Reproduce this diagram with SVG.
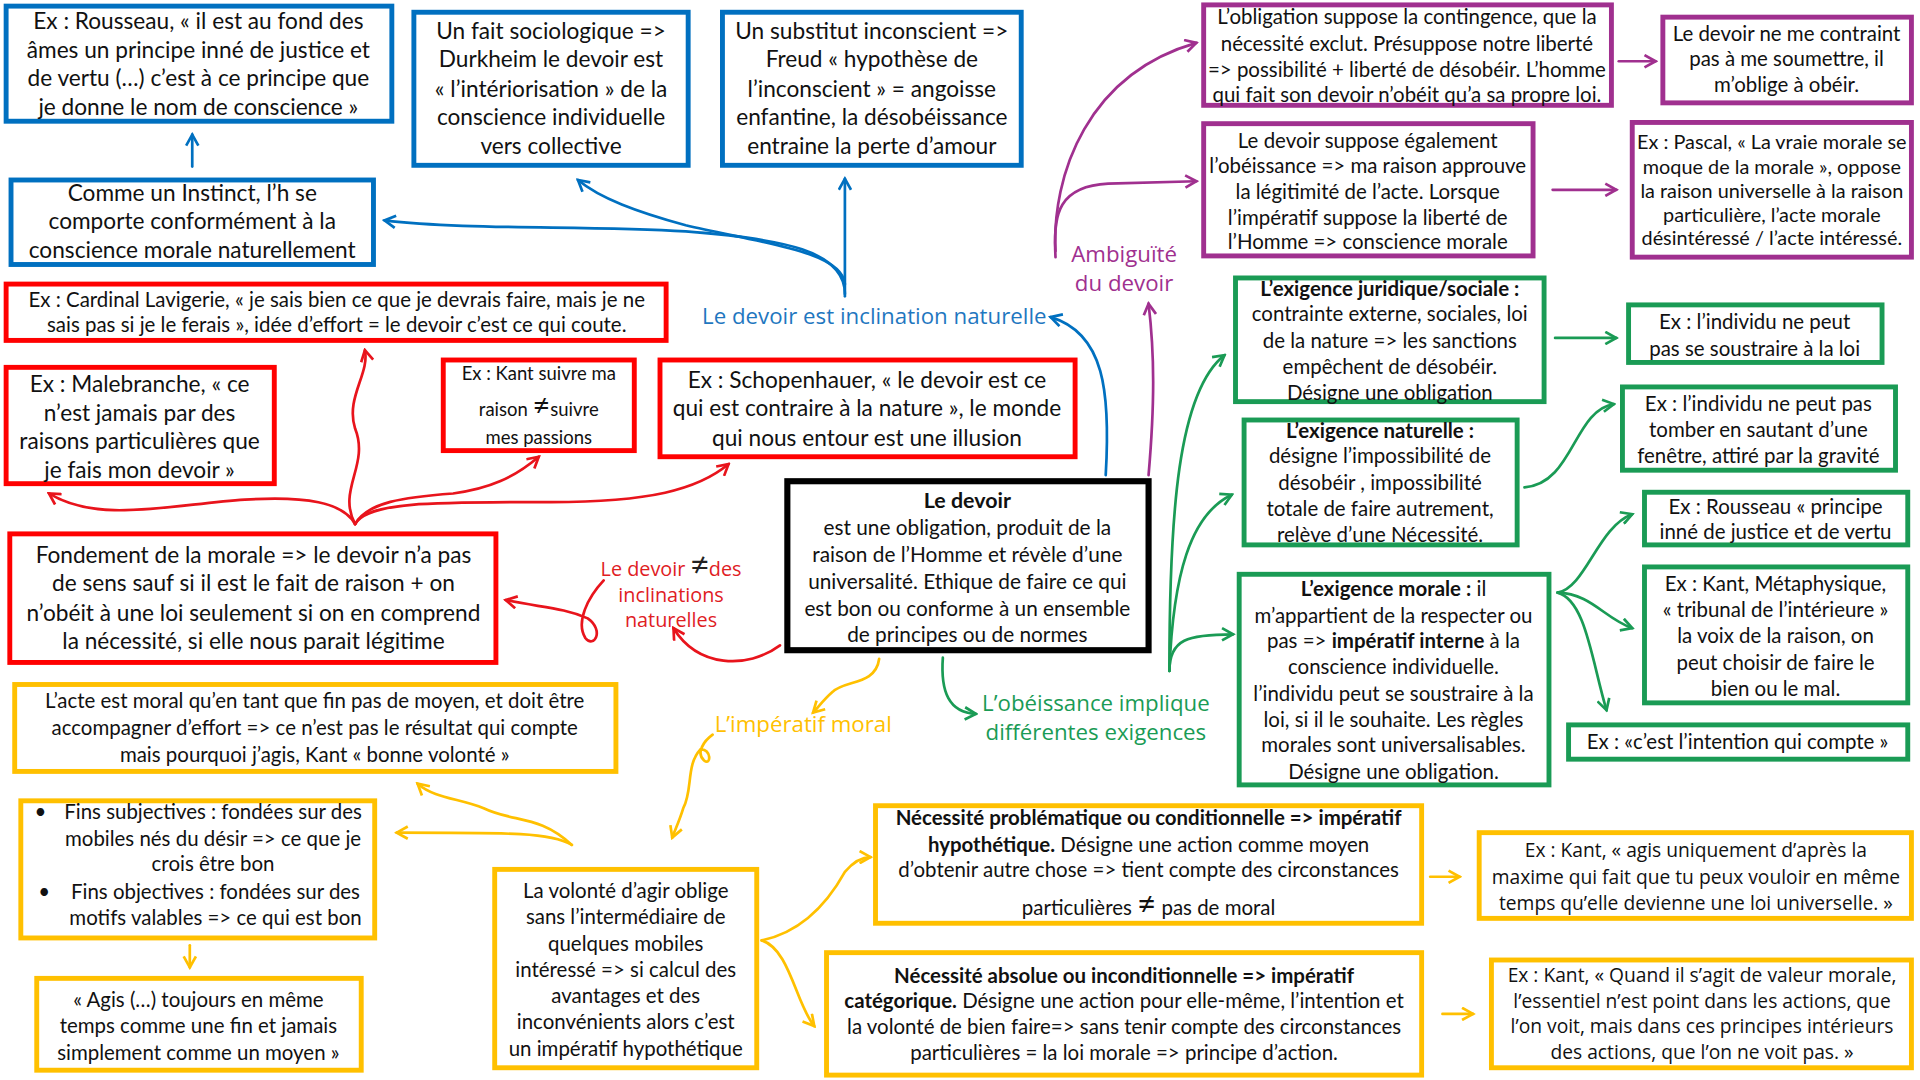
<svg xmlns="http://www.w3.org/2000/svg" width="1920" height="1080" viewBox="0 0 1920 1080">
<style>
text{font-family:Lato,"Liberation Sans",sans-serif;fill:#111;text-anchor:middle}
.f18{font-size:18.5px}
.f16{font-size:16.7px}
.f15{font-size:16.2px}
.f14{font-size:15.1px}
.fo{font-family:"Open Sans","Liberation Sans",sans-serif;font-size:15.7px}
.os{font-family:"Open Sans","Liberation Sans",sans-serif}
.b{font-weight:bold}
.bx{fill:#fff;stroke-width:4}
.blue{stroke:#0070c0}
.red{stroke:#ff0000}
.pur{stroke:#a0308f}
.grn{stroke:#1a9b55}
.yel{stroke:#ffc000}
.blk{stroke:#000;stroke-width:5}
.cn path{fill:none;stroke-width:2.2;stroke-linecap:round}
.lb{font-family:"Open Sans","Liberation Sans",sans-serif;font-size:18.2px}
</style>
<defs>
<marker id="mB" viewBox="0 0 12 12" refX="10" refY="6" markerWidth="12" markerHeight="12" markerUnits="userSpaceOnUse" orient="auto"><path d="M1,1 L10,6 L1,11" fill="none" stroke="#0070c0" stroke-width="2.2"/></marker>
<marker id="mR" viewBox="0 0 12 12" refX="10" refY="6" markerWidth="12" markerHeight="12" markerUnits="userSpaceOnUse" orient="auto"><path d="M1,1 L10,6 L1,11" fill="none" stroke="#e8141c" stroke-width="2.2"/></marker>
<marker id="mP" viewBox="0 0 12 12" refX="10" refY="6" markerWidth="12" markerHeight="12" markerUnits="userSpaceOnUse" orient="auto"><path d="M1,1 L10,6 L1,11" fill="none" stroke="#a0308f" stroke-width="2.2"/></marker>
<marker id="mG" viewBox="0 0 12 12" refX="10" refY="6" markerWidth="12" markerHeight="12" markerUnits="userSpaceOnUse" orient="auto"><path d="M1,1 L10,6 L1,11" fill="none" stroke="#1a9b55" stroke-width="2.2"/></marker>
<marker id="mY" viewBox="0 0 12 12" refX="10" refY="6" markerWidth="12" markerHeight="12" markerUnits="userSpaceOnUse" orient="auto"><path d="M1,1 L10,6 L1,11" fill="none" stroke="#ffc000" stroke-width="2.2"/></marker>
</defs>
<rect width="1920" height="1080" fill="#fff"/>
<g transform="scale(1.22449)">

<g id="connectors" class="cn">
<path d="M157,136 L157,110" stroke="#0070c0" marker-end="url(#mB)"/>
<path d="M690,242 L690,146" stroke="#0070c0" marker-end="url(#mB)"/>
<path d="M690,240 C690,205 640,195 560,189 C480,184 380,188 314,180" stroke="#0070c0" marker-end="url(#mB)"/>
<path d="M690,232 C688,205 620,198 560,184 C520,173 490,162 472,147" stroke="#0070c0" marker-end="url(#mB)"/>
<path d="M903,388 C907,320 902,272 858,259" stroke="#0070c0" marker-end="url(#mB)"/>

<path d="M862,210 C858,140 890,60 977,35" stroke="#a0308f" marker-end="url(#mP)"/>
<path d="M862,205 C860,175 865,152 905,150 L977,148" stroke="#a0308f" marker-end="url(#mP)"/>
<path d="M1322,50 L1352,50" stroke="#a0308f" marker-end="url(#mP)"/>
<path d="M1268,155 L1320,155" stroke="#a0308f" marker-end="url(#mP)"/>
<path d="M938,388 C943,330 943,290 938,248" stroke="#a0308f" marker-end="url(#mP)"/>

<path d="M770,537 C768,565 775,582 797,583" stroke="#1a9b55" marker-end="url(#mG)"/>
<path d="M955,548 C955,420 962,320 1000,290" stroke="#1a9b55" marker-end="url(#mG)"/>
<path d="M955,548 C958,470 972,420 1006,404" stroke="#1a9b55" marker-end="url(#mG)"/>
<path d="M955,548 C955,522 970,518 1007,518" stroke="#1a9b55" marker-end="url(#mG)"/>
<path d="M1270,276 L1320,276" stroke="#1a9b55" marker-end="url(#mG)"/>
<path d="M1245,398 C1285,395 1285,335 1318,330" stroke="#1a9b55" marker-end="url(#mG)"/>
<path d="M1272,484 C1295,480 1305,430 1333,420" stroke="#1a9b55" marker-end="url(#mG)"/>
<path d="M1272,484 C1300,485 1310,505 1333,513" stroke="#1a9b55" marker-end="url(#mG)"/>
<path d="M1272,484 C1295,490 1300,540 1312,580" stroke="#1a9b55" marker-end="url(#mG)"/>

<path d="M290,428 C275,400 302,380 290,350 C282,325 302,305 298,286" stroke="#e8141c" marker-end="url(#mR)"/>
<path d="M290,428 C280,410 250,405 200,408 C140,412 80,428 40,403" stroke="#e8141c" marker-end="url(#mR)"/>
<path d="M290,428 C300,410 330,406 370,403 C400,399 420,390 440,373" stroke="#e8141c" marker-end="url(#mR)"/>
<path d="M290,428 C300,410 350,410 450,410 C530,410 570,400 595,379" stroke="#e8141c" marker-end="url(#mR)"/>
<path d="M493,474 C480,488 470,508 478,521 C485,530 494,515 480,505 C460,496 440,496 413,490" stroke="#e8141c" marker-end="url(#mR)"/>
<path d="M637,527 C610,547 570,545 550,513" stroke="#e8141c" marker-end="url(#mR)"/>

<path d="M718,538 C715,560 690,555 680,565 C672,572 668,578 664,582" stroke="#ffc000" marker-end="url(#mY)"/>
<path d="M582,600 C575,605 568,615 575,621 C581,626 581,611 572,612 C560,625 566,645 558,660 C555,670 552,676 549,684" stroke="#ffc000" marker-end="url(#mY)"/>
<path d="M467,690 C440,665 420,672 395,660 C375,652 355,652 341,640" stroke="#ffc000" marker-end="url(#mY)"/>
<path d="M467,690 C450,680 420,680 324,680" stroke="#ffc000" marker-end="url(#mY)"/>
<path d="M155,772 L155,790" stroke="#ffc000" marker-end="url(#mY)"/>
<path d="M622,768 C660,760 680,730 690,712 C696,705 704,700 711,700" stroke="#ffc000" marker-end="url(#mY)"/>
<path d="M622,768 C645,775 650,820 665,838" stroke="#ffc000" marker-end="url(#mY)"/>
<path d="M1168,716 L1192,716" stroke="#ffc000" marker-end="url(#mY)"/>
<path d="M1178,828 L1203,828" stroke="#ffc000" marker-end="url(#mY)"/>
</g>

<g id="n-rousseau"><rect class="bx blue" x="5" y="5" width="315" height="94"/>
<text class="f18" x="162" y="24">Ex : Rousseau, « il est au fond des</text>
<text class="f18" x="162" y="47">âmes un principe inné de justice et</text>
<text class="f18" x="162" y="70">de vertu (…) c’est à ce principe que</text>
<text class="f18" x="162" y="94">je donne le nom de conscience »</text></g>

<g id="n-durkheim"><rect class="bx blue" x="338" y="10" width="224" height="125"/>
<text class="f18" x="450" y="32">Un fait sociologique =&gt;</text>
<text class="f18" x="450" y="55">Durkheim le devoir est</text>
<text class="f18" x="450" y="79">« l’intériorisation » de la</text>
<text class="f18" x="450" y="102">conscience individuelle</text>
<text class="f18" x="450" y="126">vers collective</text></g>

<g id="n-freud"><rect class="bx blue" x="590" y="10" width="244" height="125"/>
<text class="f18" x="712" y="32">Un substitut inconscient =&gt;</text>
<text class="f18" x="712" y="55">Freud « hypothèse de</text>
<text class="f18" x="712" y="79">l’inconscient  » = angoisse</text>
<text class="f18" x="712" y="102">enfantine, la désobéissance</text>
<text class="f18" x="712" y="126">entraine la perte d’amour</text></g>

<g id="n-instinct"><rect class="bx blue" x="9" y="147" width="296" height="69"/>
<text class="f18" x="157" y="164">Comme un Instinct, l’h se</text>
<text class="f18" x="157" y="187">comporte conformément à la</text>
<text class="f18" x="157" y="211">conscience morale naturellement</text></g>

<g id="n-label-inclination"><text class="lb" x="714" y="265" style="fill:#1f77c0">Le devoir est inclination naturelle</text></g>

<g id="n-cardinal"><rect class="bx red" x="5" y="232" width="539" height="46"/>
<text class="f16" x="275" y="250.5">Ex : Cardinal Lavigerie, « je sais bien ce que je devrais faire, mais je ne</text>
<text class="f16" x="275" y="271.5">sais pas si je le ferais », idée d’effort = le devoir c’est ce qui coute.</text></g>

<g id="n-malebranche"><rect class="bx red" x="5" y="300" width="219" height="95"/>
<text class="f18" x="114" y="320">Ex : Malebranche, « ce</text>
<text class="f18" x="114" y="344">n’est jamais par des</text>
<text class="f18" x="114" y="367">raisons particulières que</text>
<text class="f18" x="114" y="390">je fais  mon devoir »</text></g>

<g id="n-kant-passions"><rect class="bx red" x="362" y="294" width="156" height="74"/>
<text class="f14" x="440" y="310">Ex : Kant suivre ma</text>
<text class="f14" x="440" y="340">raison <tspan style="font-size:25px">≠</tspan>suivre</text>
<text class="f14" x="440" y="363">mes passions</text></g>

<g id="n-schopenhauer"><rect class="bx red" x="539" y="294" width="339" height="79"/>
<text class="f18" x="708" y="317">Ex : Schopenhauer, « le devoir est ce</text>
<text class="f18" x="708" y="340">qui est contraire à la nature », le monde</text>
<text class="f18" x="708" y="364">qui nous entour est une illusion</text></g>

<g id="n-fondement"><rect class="bx red" x="8" y="436" width="397" height="105"/>
<text class="f18" x="207" y="460">Fondement de la morale =&gt; le devoir n’a pas</text>
<text class="f18" x="207" y="483">de sens sauf si il est le fait de raison + on</text>
<text class="f18" x="207" y="507">n’obéit à une loi seulement si on en comprend</text>
<text class="f18" x="207" y="530">la nécessité, si elle nous parait légitime</text></g>

<g id="n-label-inclinations">
<text class="os" x="548" y="470" style="font-size:16.2px;fill:#e0201f">Le devoir <tspan style="font-size:26px;fill:#222">≠</tspan>des</text>
<text class="os" x="548" y="492" style="font-size:16.2px;fill:#e0201f">inclinations</text>
<text class="os" x="548" y="512" style="font-size:16.2px;fill:#e0201f">naturelles</text></g>

<g id="n-devoir"><rect class="bx blk" x="643" y="393" width="295" height="138"/>
<text x="790" y="415" class="b" style="font-size:17.5px">Le devoir</text>
<text x="790" y="437" style="font-size:17px">est une obligation, produit de la</text>
<text x="790" y="459" style="font-size:17px">raison de l’Homme et révèle d’une</text>
<text x="790" y="481" style="font-size:17px">universalité. Ethique de faire ce qui</text>
<text x="790" y="503" style="font-size:17px">est bon ou conforme à un ensemble</text>
<text x="790" y="524" style="font-size:17px">de principes ou de normes</text></g>

<g id="n-obligation"><rect class="bx pur" x="983" y="4" width="333" height="82"/>
<text class="f16" x="1149" y="20">L’obligation suppose la contingence, que la</text>
<text class="f16" x="1149" y="41.5">nécessité exclut. Présuppose  notre liberté</text>
<text class="f16" x="1149" y="62.5">=&gt; possibilité + liberté de désobéir. L’homme</text>
<text class="f16" x="1149" y="83">qui fait son devoir n’obéit qu’a sa propre loi.</text></g>

<g id="n-contraint"><rect class="bx pur" x="1358" y="14" width="203" height="70"/>
<text class="f16" x="1459" y="33.5">Le devoir ne me contraint</text>
<text class="f16" x="1459" y="53.5">pas à me soumettre, il</text>
<text class="f16" x="1459" y="75.5">m’oblige à obéir.</text></g>

<g id="n-obeissance"><rect class="bx pur" x="983" y="101" width="269" height="108"/>
<text class="f16" x="1117" y="120.5">Le devoir suppose également</text>
<text class="f16" x="1117" y="141.5">l’obéissance =&gt; ma raison approuve</text>
<text class="f16" x="1117" y="162.5">la légitimité de l’acte. Lorsque</text>
<text class="f16" x="1117" y="183.5">l’impératif suppose la liberté de</text>
<text class="f16" x="1117" y="203.5">l’Homme  =&gt; conscience morale</text></g>

<g id="n-pascal"><rect class="bx pur" x="1333" y="100" width="228" height="110"/>
<text class="f15" x="1447" y="122">Ex : Pascal, « La vraie morale se</text>
<text class="f15" x="1447" y="142">moque de la morale », oppose</text>
<text class="f15" x="1447" y="162">la raison universelle à la raison</text>
<text class="f15" x="1447" y="181">particulière, l’acte morale</text>
<text class="f15" x="1447" y="200">désintéressé / l’acte intéressé.</text></g>

<g id="n-label-ambiguite">
<text class="lb" x="918" y="214" style="fill:#a0308f">Ambiguïté</text>
<text class="lb" x="918" y="238" style="fill:#a0308f">du devoir</text></g>

<g id="n-juridique"><rect class="bx grn" x="1009" y="227" width="252" height="101"/>
<text class="f16 b" x="1135" y="241.5">L’exigence juridique/sociale :</text>
<text class="f16" x="1135" y="262.5">contrainte externe, sociales, loi</text>
<text class="f16" x="1135" y="284.5">de la nature =&gt; les sanctions</text>
<text class="f16" x="1135" y="305.5">empêchent de désobéir.</text>
<text class="f16" x="1135" y="326.5">Désigne une obligation</text></g>

<g id="n-naturelle"><rect class="bx grn" x="1016" y="343" width="223" height="102"/>
<text class="f16 b" x="1127" y="357.5">L’exigence naturelle :</text>
<text class="f16" x="1127" y="378.5">désigne l’impossibilité de</text>
<text class="f16" x="1127" y="400.5">désobéir , impossibilité</text>
<text class="f16" x="1127" y="421.5">totale de faire autrement,</text>
<text class="f16" x="1127" y="442.5">relève d’une Nécessité.</text></g>

<g id="n-morale"><rect class="bx grn" x="1012" y="469" width="253" height="172"/>
<text class="f16" x="1138" y="486.5"><tspan class="b">L’exigence morale :</tspan> il</text>
<text class="f16" x="1138" y="508.5">m’appartient de la respecter ou</text>
<text class="f16" x="1138" y="529.5">pas =&gt; <tspan class="b">impératif interne</tspan> à la</text>
<text class="f16" x="1138" y="550.5">conscience individuelle.</text>
<text class="f16" x="1138" y="572.5">l’individu peut se soustraire à la</text>
<text class="f16" x="1138" y="593.5">loi, si il le souhaite. Les règles</text>
<text class="f16" x="1138" y="614.5">morales sont universalisables.</text>
<text class="f16" x="1138" y="636.5">Désigne une obligation.</text></g>

<g id="n-ex-loi"><rect class="bx grn" x="1330" y="249" width="207" height="47"/>
<text class="f16" x="1433" y="268.5">Ex : l’individu ne peut</text>
<text class="f16" x="1433" y="290.5">pas se soustraire à la loi</text></g>

<g id="n-ex-gravite"><rect class="bx grn" x="1325" y="316" width="223" height="68"/>
<text class="f16" x="1436" y="335.5">Ex : l’individu ne peut pas</text>
<text class="f16" x="1436" y="356.5">tomber en sautant d’une</text>
<text class="f16" x="1436" y="378.5">fenêtre, attiré par la gravité</text></g>

<g id="n-ex-rousseau"><rect class="bx grn" x="1343" y="402" width="215" height="43"/>
<text class="f16" x="1450" y="419.5">Ex : Rousseau « principe</text>
<text class="f16" x="1450" y="440.5">inné de justice et de vertu</text></g>

<g id="n-ex-kant-tribunal"><rect class="bx grn" x="1343" y="463" width="215" height="111"/>
<text class="f16" x="1450" y="482.5">Ex : Kant, Métaphysique,</text>
<text class="f16" x="1450" y="503.5">« tribunal de l’intérieure »</text>
<text class="f16" x="1450" y="525.5">la voix de la raison, on</text>
<text class="f16" x="1450" y="547.5">peut choisir de faire le</text>
<text class="f16" x="1450" y="568.5">bien ou le mal.</text></g>

<g id="n-ex-intention"><rect class="bx grn" x="1281" y="592" width="277" height="28"/>
<text class="f16" x="1419" y="611.5">Ex : «c’est l’intention qui compte »</text></g>

<g id="n-label-obeissance">
<text class="lb" x="895" y="581" style="fill:#1a9b55">L’obéissance implique</text>
<text class="lb" x="895" y="604" style="fill:#1a9b55">différentes exigences</text></g>

<g id="n-acte"><rect class="bx yel" x="12" y="559" width="491" height="71"/>
<text class="f16" x="257" y="578.5">L’acte est moral qu’en tant que fin pas de moyen, et doit être</text>
<text class="f16" x="257" y="600.5">accompagner d’effort =&gt; ce n’est pas le résultat qui compte</text>
<text class="f16" x="257" y="622.5">mais pourquoi j’agis, Kant « bonne volonté »</text></g>

<g id="n-fins"><rect class="bx yel" x="17" y="654" width="289" height="112"/>
<text class="f16" x="33" y="668.5">•</text>
<text class="f16" x="174" y="668.5">Fins subjectives : fondées sur des</text>
<text class="f16" x="174" y="690.5">mobiles nés du désir =&gt; ce que je</text>
<text class="f16" x="174" y="711.5">crois être bon</text>
<text class="f16" x="36" y="734.5">•</text>
<text class="f16" x="176" y="734.5">Fins objectives : fondées sur des</text>
<text class="f16" x="176" y="755.5">motifs valables =&gt; ce qui est bon</text></g>

<g id="n-agis"><rect class="bx yel" x="30" y="799" width="265" height="75"/>
<text class="f16" x="162" y="822.5">« Agis (…) toujours en même</text>
<text class="f16" x="162" y="843.5">temps comme une fin et jamais</text>
<text class="f16" x="162" y="865.5">simplement comme un moyen »</text></g>

<g id="n-volonte"><rect class="bx yel" x="404" y="710" width="214" height="162"/>
<text class="f16" x="511" y="733.5">La volonté d’agir oblige</text>
<text class="f16" x="511" y="754.5">sans l’intermédiaire de</text>
<text class="f16" x="511" y="776.5">quelques mobiles</text>
<text class="f16" x="511" y="797.5">intéressé =&gt; si calcul des</text>
<text class="f16" x="511" y="819.5">avantages et des</text>
<text class="f16" x="511" y="840.5">inconvénients alors c’est</text>
<text class="f16" x="511" y="862.5">un impératif hypothétique</text></g>

<g id="n-label-imperatif"><text class="lb" x="656" y="598" style="fill:#ffc000">L’impératif moral</text></g>

<g id="n-hypothetique"><rect class="bx yel" x="715" y="658" width="446" height="96"/>
<text class="f16 b" x="938" y="673.5">Nécessité problématique ou conditionnelle =&gt; impératif</text>
<text class="f16" x="938" y="695.5"><tspan class="b">hypothétique.</tspan> Désigne une action comme moyen</text>
<text class="f16" x="938" y="716.5">d’obtenir autre chose =&gt; tient compte des circonstances</text>
<text class="f16" x="938" y="747.5">particulières <tspan style="font-size:27px">≠</tspan> pas de moral</text></g>

<g id="n-categorique"><rect class="bx yel" x="675" y="778" width="486" height="100"/>
<text class="f16 b" x="918" y="802.5">Nécessité absolue ou inconditionnelle =&gt; impératif</text>
<text class="f16" x="918" y="823.5"><tspan class="b">catégorique.</tspan> Désigne une action pour elle-même, l’intention et</text>
<text class="f16" x="918" y="844.5">la volonté de bien faire=&gt; sans tenir compte des circonstances</text>
<text class="f16" x="918" y="865.5">particulières = la loi morale =&gt; principe d’action.</text></g>

<g id="n-ex-maxime"><rect class="bx yel" x="1208" y="680" width="353" height="70"/>
<text class="fo" x="1385" y="700">Ex : Kant, « agis uniquement d’après la</text>
<text class="fo" x="1385" y="722">maxime qui fait que tu peux vouloir en même</text>
<text class="fo" x="1385" y="743">temps qu’elle devienne une loi universelle. »</text></g>

<g id="n-ex-valeur"><rect class="bx yel" x="1218" y="784" width="343" height="88"/>
<text class="fo" x="1390" y="802">Ex : Kant, « Quand il s’agit de valeur morale,</text>
<text class="fo" x="1390" y="823">l’essentiel n’est point dans les actions, que</text>
<text class="fo" x="1390" y="844">l’on voit, mais dans ces principes intérieurs</text>
<text class="fo" x="1390" y="865">des actions, que l’on ne voit pas. »</text></g>

</g>
</svg>
